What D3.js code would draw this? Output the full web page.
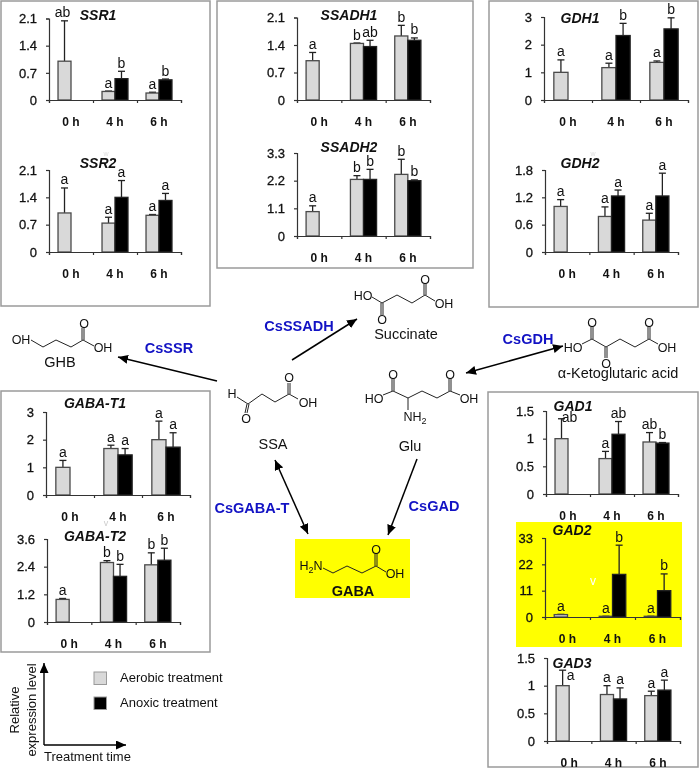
<!DOCTYPE html>
<html>
<head>
<meta charset="utf-8">
<script src="https://cdn.jsdelivr.net/npm/d3@7"></script>
<style>
html,body{margin:0;padding:0;background:#fff}
svg{display:block;filter:blur(0.35px)}
text{font-family:"Liberation Sans",Arial,sans-serif;fill:#111}
</style>
</head>
<body>
<svg id="c" width="700" height="769"></svg>
<script>
// ---------- data ----------
const timeLabels = ["0 h", "4 h", "6 h"];
const seriesNames = ["Aerobic treatment", "Anoxic treatment"];

const ssr1Ticks = [0, 0.7, 1.4, 2.1];
const ssr1Aerobic = [1, 0.22, 0.18];
const ssr1AerobicTop = [2.04, 0.23, 0.2];
const ssr1Anoxic = [null, 0.55, 0.52];
const ssr1AnoxicTop = [null, 0.74, 0.54];
const ssr1LettersAerobic = ["ab", "a", "a"];
const ssr1LettersAnoxic = [null, "b", "b"];

const ssr2Ticks = [0, 0.7, 1.4, 2.1];
const ssr2Aerobic = [1, 0.74, 0.94];
const ssr2AerobicTop = [1.64, 0.89, 0.96];
const ssr2Anoxic = [null, 1.4, 1.32];
const ssr2AnoxicTop = [null, 1.83, 1.5];
const ssr2LettersAerobic = ["a", "a", "a"];
const ssr2LettersAnoxic = [null, "a", "a"];

const ssadh1Ticks = [0, 0.7, 1.4, 2.1];
const ssadh1Aerobic = [1, 1.44, 1.63];
const ssadh1AerobicTop = [1.21, 1.45, 1.9];
const ssadh1Anoxic = [null, 1.36, 1.52];
const ssadh1AnoxicTop = [null, 1.52, 1.58];
const ssadh1LettersAerobic = ["a", "b", "b"];
const ssadh1LettersAnoxic = [null, "ab", "b"];

const ssadh2Ticks = [0, 1.1, 2.2, 3.3];
const ssadh2Aerobic = [0.97, 2.25, 2.45];
const ssadh2AerobicTop = [1.2, 2.4, 3.05];
const ssadh2Anoxic = [null, 2.25, 2.2];
const ssadh2AnoxicTop = [null, 2.65, 2.23];
const ssadh2LettersAerobic = ["a", "b", "b"];
const ssadh2LettersAnoxic = [null, "b", "b"];

const gdh1Ticks = [0, 1, 2, 3];
const gdh1Aerobic = [1, 1.17, 1.36];
const gdh1AerobicTop = [1.45, 1.33, 1.41];
const gdh1Anoxic = [null, 2.33, 2.57];
const gdh1AnoxicTop = [null, 2.77, 2.97];
const gdh1LettersAerobic = ["a", "a", "a"];
const gdh1LettersAnoxic = [null, "b", "b"];

const gdh2Ticks = [0, 0.6, 1.2, 1.8];
const gdh2Aerobic = [1, 0.78, 0.7];
const gdh2AerobicTop = [1.15, 0.99, 0.85];
const gdh2Anoxic = [null, 1.23, 1.23];
const gdh2AnoxicTop = [null, 1.36, 1.73];
const gdh2LettersAerobic = ["a", "a", "a"];
const gdh2LettersAnoxic = [null, "a", "a"];

const gabaT1Ticks = [0, 1, 2, 3];
const gabaT1Aerobic = [1, 1.68, 2.0];
const gabaT1AerobicTop = [1.25, 1.8, 2.67];
const gabaT1Anoxic = [null, 1.45, 1.73];
const gabaT1AnoxicTop = [null, 1.68, 2.25];
const gabaT1LettersAerobic = ["a", "a", "a"];
const gabaT1LettersAnoxic = [null, "a", "a"];

const gabaT2Ticks = [0, 1.2, 2.4, 3.6];
const gabaT2Aerobic = [0.98, 2.58, 2.48];
const gabaT2AerobicTop = [1.02, 2.66, 3.0];
const gabaT2Anoxic = [null, 1.98, 2.68];
const gabaT2AnoxicTop = [null, 2.5, 3.2];
const gabaT2LettersAerobic = ["a", "b", "b"];
const gabaT2LettersAnoxic = [null, "b", "b"];

const gad1Ticks = [0, 0.5, 1, 1.5];
const gad1Aerobic = [1, 0.64, 0.94];
const gad1AerobicTop = [1.36, 0.77, 1.11];
const gad1Anoxic = [null, 1.08, 0.92];
const gad1AnoxicTop = [null, 1.31, 0.93];
const gad1LettersAerobic = ["ab", "a", "ab"];
const gad1LettersAnoxic = [null, "ab", "b"];

const gad2Ticks = [0, 11, 22, 33];
const gad2Aerobic = [1, 0.3, 0.3];
const gad2AerobicTop = [1.1, 0.3, 0.3];
const gad2Anoxic = [null, 17.8, 11];
const gad2AnoxicTop = [null, 30, 18];
const gad2LettersAerobic = ["a", "a", "a"];
const gad2LettersAnoxic = [null, "b", "b"];

const gad3Ticks = [0, 0.5, 1, 1.5];
const gad3Aerobic = [1, 0.84, 0.82];
const gad3AerobicTop = [1.28, 1.0, 0.9];
const gad3Anoxic = [null, 0.76, 0.92];
const gad3AnoxicTop = [null, 0.96, 1.1];
const gad3LettersAerobic = ["a", "a", "a"];
const gad3LettersAnoxic = [null, "a", "a"];

const panels = [
  {name:"SSR1", ticks:ssr1Ticks, aer:ssr1Aerobic, aerTop:ssr1AerobicTop, anx:ssr1Anoxic, anxTop:ssr1AnoxicTop, la:ssr1LettersAerobic, lb:ssr1LettersAnoxic},
  {name:"SSR2", ticks:ssr2Ticks, aer:ssr2Aerobic, aerTop:ssr2AerobicTop, anx:ssr2Anoxic, anxTop:ssr2AnoxicTop, la:ssr2LettersAerobic, lb:ssr2LettersAnoxic},
  {name:"SSADH1", ticks:ssadh1Ticks, aer:ssadh1Aerobic, aerTop:ssadh1AerobicTop, anx:ssadh1Anoxic, anxTop:ssadh1AnoxicTop, la:ssadh1LettersAerobic, lb:ssadh1LettersAnoxic},
  {name:"SSADH2", ticks:ssadh2Ticks, aer:ssadh2Aerobic, aerTop:ssadh2AerobicTop, anx:ssadh2Anoxic, anxTop:ssadh2AnoxicTop, la:ssadh2LettersAerobic, lb:ssadh2LettersAnoxic},
  {name:"GDH1", ticks:gdh1Ticks, aer:gdh1Aerobic, aerTop:gdh1AerobicTop, anx:gdh1Anoxic, anxTop:gdh1AnoxicTop, la:gdh1LettersAerobic, lb:gdh1LettersAnoxic},
  {name:"GDH2", ticks:gdh2Ticks, aer:gdh2Aerobic, aerTop:gdh2AerobicTop, anx:gdh2Anoxic, anxTop:gdh2AnoxicTop, la:gdh2LettersAerobic, lb:gdh2LettersAnoxic},
  {name:"GABA-T1", ticks:gabaT1Ticks, aer:gabaT1Aerobic, aerTop:gabaT1AerobicTop, anx:gabaT1Anoxic, anxTop:gabaT1AnoxicTop, la:gabaT1LettersAerobic, lb:gabaT1LettersAnoxic},
  {name:"GABA-T2", ticks:gabaT2Ticks, aer:gabaT2Aerobic, aerTop:gabaT2AerobicTop, anx:gabaT2Anoxic, anxTop:gabaT2AnoxicTop, la:gabaT2LettersAerobic, lb:gabaT2LettersAnoxic},
  {name:"GAD1", ticks:gad1Ticks, aer:gad1Aerobic, aerTop:gad1AerobicTop, anx:gad1Anoxic, anxTop:gad1AnoxicTop, la:gad1LettersAerobic, lb:gad1LettersAnoxic},
  {name:"GAD2", ticks:gad2Ticks, aer:gad2Aerobic, aerTop:gad2AerobicTop, anx:gad2Anoxic, anxTop:gad2AnoxicTop, la:gad2LettersAerobic, lb:gad2LettersAnoxic},
  {name:"GAD3", ticks:gad3Ticks, aer:gad3Aerobic, aerTop:gad3AerobicTop, anx:gad3Anoxic, anxTop:gad3AnoxicTop, la:gad3LettersAerobic, lb:gad3LettersAnoxic}
];

// ---------- layout (pixels) ----------
const layout = {
  "SSR1":   {x0:49, x1:181, yt:18.5, y0:100, tx:98,  ty:20},
  "SSR2":   {x0:49, x1:181, yt:170,  y0:252, tx:98,  ty:168},
  "SSADH1": {x0:297,x1:430, yt:17.5, y0:100, tx:349, ty:20},
  "SSADH2": {x0:297,x1:430, yt:153,  y0:236, tx:349, ty:152},
  "GDH1":   {x0:544,x1:688, yt:17,   y0:100, tx:580, ty:23},
  "GDH2":   {x0:545,x1:678, yt:170,  y0:252, tx:580, ty:168},
  "GABA-T1":{x0:46, x1:190, yt:412,  y0:495, tx:95,  ty:408},
  "GABA-T2":{x0:47, x1:180, yt:539,  y0:622, tx:95,  ty:541},
  "GAD1":   {x0:546,x1:678, yt:411,  y0:494, tx:573, ty:411},
  "GAD2":   {x0:545,x1:680, yt:538,  y0:617, tx:572, ty:535},
  "GAD3":   {x0:547,x1:680, yt:658,  y0:741, tx:572, ty:668}
};
// nudges for letters that do not sit directly over their error bar: [panel, series, index, dx, dy]
const letterNudges = [
  ["SSR1",0,0,-2,0],
  ["GAD1",0,0,8,7],
  ["GAD3",0,0,8,13]
];
const frames = [
  [1,1,209,305],[217,1,256,267],[489,1,209,306],[1,391,209,261],[488,392,210,375]
];
const yellowBoxes = [[516,522,166,125],[295,539,115,59]];

const svg = d3.select("#c");
const aerFill = "#d9d9d9", barEdge = "#4a4a4a", frameColor = "#9a9a9a", blue = "#1212c4";

// ---------- backgrounds ----------
svg.selectAll("rect.y").data(yellowBoxes).join("rect").attr("class","y")
  .attr("x",d=>d[0]).attr("y",d=>d[1]).attr("width",d=>d[2]).attr("height",d=>d[3]).attr("fill","#ffff00");
svg.selectAll("rect.f").data(frames).join("rect").attr("class","f")
  .attr("x",d=>d[0]).attr("y",d=>d[1]).attr("width",d=>d[2]).attr("height",d=>d[3])
  .attr("fill","none").attr("stroke",frameColor).attr("stroke-width",1.5);

// ---------- bar panels ----------
panels.forEach(p=>{
  const L = layout[p.name];
  const g = svg.append("g").attr("class","panel");
  const x = d3.scaleBand().domain(timeLabels).range([L.x0,L.x1]);
  const xs = d3.scaleBand().domain(seriesNames).range([x.bandwidth()*0.205,x.bandwidth()*0.795]);
  const y = d3.scaleLinear().domain([p.ticks[0],p.ticks[p.ticks.length-1]]).range([L.y0,L.yt]);
  const edges = d3.scaleLinear().domain([0,3]).range([L.x0,L.x1]);

  const series = [
    {key:seriesNames[0], vals:p.aer, tops:p.aerTop, letters:p.la, fill:aerFill, stroke:barEdge, idx:0},
    {key:seriesNames[1], vals:p.anx, tops:p.anxTop, letters:p.lb, fill:"#000", stroke:"#222", idx:1}
  ];
  series.forEach(s=>{
    const rows = timeLabels.map((t,i)=>({t,v:s.vals[i],top:s.tops[i],l:s.letters[i],i})).filter(d=>d.v!==null);
    const cx = d=>x(d.t)+xs(s.key)+xs.bandwidth()/2;
    g.selectAll(null).data(rows).join("line")
      .attr("x1",cx).attr("x2",cx).attr("y1",d=>y(d.v)).attr("y2",d=>y(d.top))
      .attr("stroke","#222").attr("stroke-width",1.3);
    g.selectAll(null).data(rows).join("line")
      .attr("x1",d=>cx(d)-3.5).attr("x2",d=>cx(d)+3.5).attr("y1",d=>y(d.top)).attr("y2",d=>y(d.top))
      .attr("stroke","#222").attr("stroke-width",1.3);
    g.selectAll(null).data(rows).join("rect")
      .attr("x",d=>x(d.t)+xs(s.key)).attr("width",xs.bandwidth())
      .attr("y",d=>y(d.v)).attr("height",d=>y(0)-y(d.v))
      .attr("fill",s.fill).attr("stroke",s.stroke).attr("stroke-width",1.3);
    g.selectAll(null).data(rows).join("text")
      .attr("x",d=>{
        const n = letterNudges.find(m=>m[0]===p.name&&m[1]===s.idx&&m[2]===d.i);
        return cx(d)+(n?n[3]:0);
      })
      .attr("y",d=>{
        const n = letterNudges.find(m=>m[0]===p.name&&m[1]===s.idx&&m[2]===d.i);
        return y(d.top)-3.5+(n?n[4]:0);
      })
      .attr("text-anchor","middle").attr("font-size",14).text(d=>d.l);
  });

  // value axis
  const ya = g.append("g").attr("transform",`translate(${L.x0},0)`)
    .call(d3.axisLeft(y).tickValues(p.ticks).tickSize(3).tickPadding(9).tickFormat(String));
  ya.selectAll("path,line").attr("stroke","#333").attr("stroke-width",1.2);
  ya.selectAll("text").attr("font-size",13).attr("font-family","Liberation Sans").attr("stroke","#111").attr("stroke-width",0.3).style("fill","#111");

  // category axis: tick marks at band edges, labels at band centres
  const xe = g.append("g").attr("transform",`translate(0,${L.y0})`)
    .call(d3.axisBottom(edges).tickValues([0,1,2,3]).tickSize(3).tickFormat(""));
  xe.selectAll("path,line").attr("stroke","#333").attr("stroke-width",1.2);
  const xl = g.append("g").attr("transform",`translate(0,${L.y0})`)
    .call(d3.axisBottom(x).tickSize(0).tickPadding(17));
  xl.select("path").remove();
  xl.selectAll("text").attr("font-size",12).attr("font-weight","bold").attr("font-family","Liberation Sans").style("fill","#111");

  g.append("text").attr("x",L.tx).attr("y",L.ty).attr("text-anchor","middle")
    .attr("font-size",14).attr("font-weight","bold").attr("font-style","italic").text(p.name);
});

// stray marks present in the source image
const strayMarks = [["v",593,585,12,"#fff"],["w",106,156,7,"#ddd"],["w",593,156,7,"#ddd"],["v",106,526,9,"#ccc"]];
svg.selectAll("text.stray").data(strayMarks).join("text").attr("class","stray")
  .attr("x",d=>d[1]).attr("y",d=>d[2]).attr("text-anchor","middle")
  .attr("font-size",d=>d[3]).style("fill",d=>d[4]).text(d=>d[0]);

// ---------- pathway ----------
const defs = svg.append("defs");
defs.append("marker").attr("id","head").attr("viewBox","0 0 10 9").attr("refX",10).attr("refY",4.5)
  .attr("markerWidth",10).attr("markerHeight",9).attr("markerUnits","userSpaceOnUse").attr("orient","auto-start-reverse")
  .append("path").attr("d","M0,0L10,4.5L0,9Z").attr("fill","#000");

const arrows = [
  [292,360,357,319,false],
  [217,381,118,357,false],
  [275,460,308,534,true],
  [417,459,388,535,false],
  [466,373,563,346,true]
];
arrows.forEach(a=>{
  const l = svg.append("line").attr("x1",a[0]).attr("y1",a[1]).attr("x2",a[2]).attr("y2",a[3])
    .attr("stroke","#000").attr("stroke-width",1.5).attr("marker-end","url(#head)");
  if(a[4]) l.attr("marker-start","url(#head)");
});

const enzymes = [["CsSSADH",299,326],["CsSSR",169,348],["CsGDH",528,339],["CsGABA-T",252,508],["CsGAD",434,506]];
svg.selectAll("text.enz").data(enzymes).join("text").attr("class","enz")
  .attr("x",d=>d[1]).attr("y",d=>d[2]).attr("dy","0.36em").attr("text-anchor","middle")
  .attr("font-size",14.5).attr("font-weight","bold").style("fill",blue).text(d=>d[0]);

// molecule skeletons: bonds and atom labels
const bonds = [
  // GHB
  "M31,340L43,347L56,340L71,347L83,340L94,346","M82,340V328","M84,340V328",
  // SSA
  "M237,397L248,404L262,394L275,402L289,394L298,399","M247,404L245,413","M249,404L247,413","M288,394V383","M290,394V383",
  // Glu
  "M383,395L393,391L408,398L422,391L437,398L450,391L460,395","M392,391V379","M394,391V379","M449,391V379","M451,391V379","M408,398V410",
  // Succinate
  "M372,297L382,303L397,295L412,303L425,295L435,301","M381,303V315","M383,303V315","M424,295V284","M426,295V284",
  // alpha-ketoglutaric acid
  "M582,344L592,339L606,347L620,339L635,347L649,339L658,344","M591,339V327","M593,339V327","M605,347V358","M607,347V358","M648,339V327","M650,339V327",
  // GABA
  "M323,568L333,573L347,566L362,573L376,566L386,572","M375,566V554","M377,566V554"
];
svg.append("path").attr("d",bonds.join("")).attr("fill","none").attr("stroke","#222").attr("stroke-width",1);

const atoms = [
  ["OH",21,339],["O",84,323],["OH",103,347],
  ["H",232,393],["O",246,418],["O",289,377],["OH",308,402],
  ["HO",374,398],["O",393,374],["O",450,374],["OH",469,398],
  ["HO",363,295],["O",382,319],["O",425,279],["OH",444,303],
  ["HO",573,347],["O",592,322],["O",606,363],["O",649,322],["OH",667,347],
  ["O",376,549],["OH",395,573]
];
svg.selectAll("text.atom").data(atoms).join("text").attr("class","atom")
  .attr("x",d=>d[1]).attr("y",d=>d[2]).attr("dy","0.36em").attr("text-anchor","middle")
  .attr("font-size",12.5).text(d=>d[0]);

// atoms with subscripts
const nh2 = svg.append("text").attr("x",415).attr("y",416).attr("dy","0.36em").attr("text-anchor","middle").attr("font-size",12.5);
nh2.append("tspan").text("NH");
nh2.append("tspan").attr("font-size",9).attr("dy",3).text("2");
const h2n = svg.append("text").attr("x",311).attr("y",565).attr("dy","0.36em").attr("text-anchor","middle").attr("font-size",12.5);
h2n.append("tspan").text("H");
h2n.append("tspan").attr("font-size",9).attr("dy",3).text("2");
h2n.append("tspan").attr("dy",-3).text("N");

const compounds = [["GHB",60,362],["SSA",273,444],["Glu",410,446],["Succinate",406,334],["\u03b1-Ketoglutaric acid",618,373]];
svg.selectAll("text.cpd").data(compounds).join("text").attr("class","cpd")
  .attr("x",d=>d[1]).attr("y",d=>d[2]).attr("dy","0.36em").attr("text-anchor","middle")
  .attr("font-size",14.5).text(d=>d[0]);
svg.append("text").attr("x",353).attr("y",591).attr("dy","0.36em").attr("text-anchor","middle")
  .attr("font-size",14.5).attr("font-weight","bold").text("GABA");

// ---------- legend ----------
const legendFills = [aerFill,"#000"];
const legendY = d3.scalePoint().domain(seriesNames).range([678,703]);
const legend = svg.append("g");
legend.selectAll("rect").data(seriesNames).join("rect")
  .attr("x",94).attr("y",d=>legendY(d)-6).attr("width",12.5).attr("height",12.5)
  .attr("fill",(d,i)=>legendFills[i]).attr("stroke",frameColor).attr("stroke-width",1);
legend.selectAll("text").data(seriesNames).join("text")
  .attr("x",120).attr("y",d=>legendY(d)-1).attr("dy","0.36em").attr("font-size",13).text(d=>d);

// axis key
svg.append("path").attr("d","M44,745V663").attr("stroke","#000").attr("stroke-width",1.4).attr("fill","none").attr("marker-end","url(#head)");
svg.append("path").attr("d","M44,745H126").attr("stroke","#000").attr("stroke-width",1.4).attr("fill","none").attr("marker-end","url(#head)");
svg.append("text").attr("x",44).attr("y",756).attr("dy","0.36em").attr("font-size",13).text("Treatment time");
[["Relative",14],["expression level",31]].forEach(d=>{
  svg.append("text").attr("transform",`translate(${d[1]},710) rotate(-90)`).attr("dy","0.36em")
    .attr("text-anchor","middle").attr("font-size",13).text(d[0]);
});
</script>
</body>
</html>
